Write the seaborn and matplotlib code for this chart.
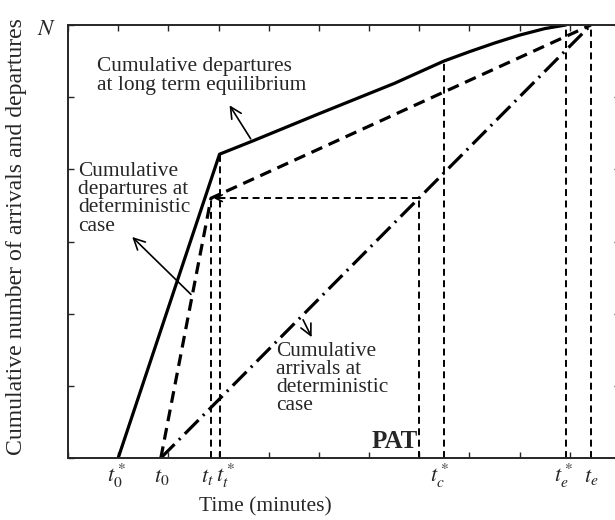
import matplotlib
matplotlib.use("Agg")
import matplotlib.pyplot as plt
import seaborn as sns
import pandas as pd

# Event times (axis units of time) and total demand N
t0_star = 1.0
t0 = 1.85
tt = 2.85
tt_star = 3.02
t_pat = 7.0
tc_star = 7.49
te_star = 9.92
te = 10.42
N = 6.0

# Cumulative departures at long term equilibrium
eq_time = [1.0, 3.02, 3.67, 5.0, 6.5, 7.49, 8.0, 8.5, 9.0, 9.5, 9.92]
eq_count = [0.0, 4.21, 4.39, 4.77, 5.19, 5.50, 5.63, 5.75, 5.86, 5.95, 6.0]

# Cumulative departures, deterministic case
det_dep_time = [t0, tt, te]
det_dep_count = [0.0, 3.60, N]

# Cumulative arrivals, deterministic case
arr_time = [t0, te]
arr_count = [0.0, N]

# Labels under the time axis
event_times = [t0_star, t0, tt, tt_star, tc_star, te_star, te]
event_labels = [r"$t_0^*$", r"$t_0$", r"$t_t$", r"$t_t^*$", r"$t_c^*$", r"$t_e^*$", r"$t_e$"]
event_shift_px = [-2, 1, -4, 6, -4, -2, 0]

sns.set_style("ticks")
plt.rcParams["font.family"] = ["Liberation Serif", "DejaVu Serif"]
plt.rcParams["mathtext.fontset"] = "stix"
plt.rcParams["lines.scale_dashes"] = False

W, H = 615, 520
fig = plt.figure(figsize=(W / 100, H / 100), dpi=100)
ax = fig.add_axes([68 / W, (H - 458) / H, (620 - 68) / W, (458 - 25) / H])

ax.set_xlim(0, 11)
ax.set_ylim(0, N)

k = "black"
thick = 2.3
dashed_thick = (0, (8.5, 5.0))
dashed_thin = (0, (5.0, 3.2))
dash_dot = (0, (14.0, 4.5, 1.5, 4.5))

sns.lineplot(x=eq_time, y=eq_count, ax=ax, color=k, linewidth=thick,
             sort=False, estimator=None)
sns.lineplot(x=det_dep_time, y=det_dep_count, ax=ax, color=k, linewidth=thick,
             sort=False, estimator=None, linestyle=dashed_thick)
sns.lineplot(x=arr_time, y=arr_count, ax=ax, color=k, linewidth=thick,
             sort=False, estimator=None, linestyle=dash_dot)

# Vertical guides from the time axis up to the curves
guides = pd.DataFrame({
    "t": [tt, tt_star, t_pat, tc_star, te_star, te],
    "top": [det_dep_count[1], eq_count[1], det_dep_count[1], eq_count[5], N, N],
})
for t, top in zip(guides["t"], guides["top"]):
    ax.plot([t, t], [0, top], color=k, lw=1.4, linestyle=dashed_thin)

# Horizontal PAT connector, from arrivals back to departures
ax.plot([t_pat, tt + 0.1], [det_dep_count[1]] * 2, color=k, lw=1.4, linestyle=dashed_thin)
ax.annotate("", xy=(tt, det_dep_count[1]), xytext=(tt + 0.3, det_dep_count[1]),
            arrowprops=dict(arrowstyle="->", color=k, lw=1.2, mutation_scale=12))

# Curve annotations
arrow = dict(arrowstyle="->", color=k, lw=1.2, mutation_scale=20)
ax.annotate("", xy=(3.19, 4.92), xytext=(3.67, 4.39), arrowprops=arrow)
ax.annotate("", xy=(1.24, 3.09), xytext=(2.49, 2.24), arrowprops=arrow)
ax.annotate("", xy=(4.88, 1.64), xytext=(4.66, 1.95), arrowprops=arrow)

fs = 15.4
ax.text(0.58, 5.56, "Cumulative departures\nat long term equilibrium",
        fontsize=fs, va="top", ha="left", linespacing=1.05)
ax.text(0.2, 4.10, "Cumulative\ndepartures at\ndeterministic\ncase",
        fontsize=fs, va="top", ha="left", linespacing=0.94)
ax.text(4.15, 1.61, "Cumulative\narrivals at\ndeterministic\ncase",
        fontsize=fs, va="top", ha="left", linespacing=0.94)
ax.annotate("PAT", xy=(t_pat, 0.14), xytext=(-1, 0), textcoords="offset points",
            fontsize=18, fontweight="bold", ha="right", va="baseline")

# Axis ticks: plain inward ticks on all sides
ax.set_xticks(range(0, 12))
ax.set_yticks(range(0, 7))
ax.set_xticklabels([])
ax.set_yticklabels([])
ax.tick_params(direction="in", length=4, width=1.0, top=True, right=True,
               bottom=True, left=True)
for s in ax.spines.values():
    s.set_linewidth(1.4)
    s.set_visible(True)

for t, lab, dx in zip(event_times, event_labels, event_shift_px):
    ax.annotate(lab, xy=(t, 0), xytext=(dx * 0.72, -24 * 0.72),
                textcoords="offset points", ha="center", va="baseline",
                fontsize=16, annotation_clip=False)
ax.annotate(r"$N$", xy=(0, N), xytext=(-12 * 0.72, -10 * 0.72), textcoords="offset points",
            ha="right", va="baseline", fontsize=16.5, annotation_clip=False)

fig.text(265 / W, (H - 511) / H, "Time (minutes)", ha="center", va="baseline",
         fontsize=15.5)
fig.text(17 / W, (H - 237) / H, "Cumulative number of arrivals and departures",
         ha="center", va="center", rotation=90, fontsize=17.1)

fig.savefig("out.png", dpi=100)
